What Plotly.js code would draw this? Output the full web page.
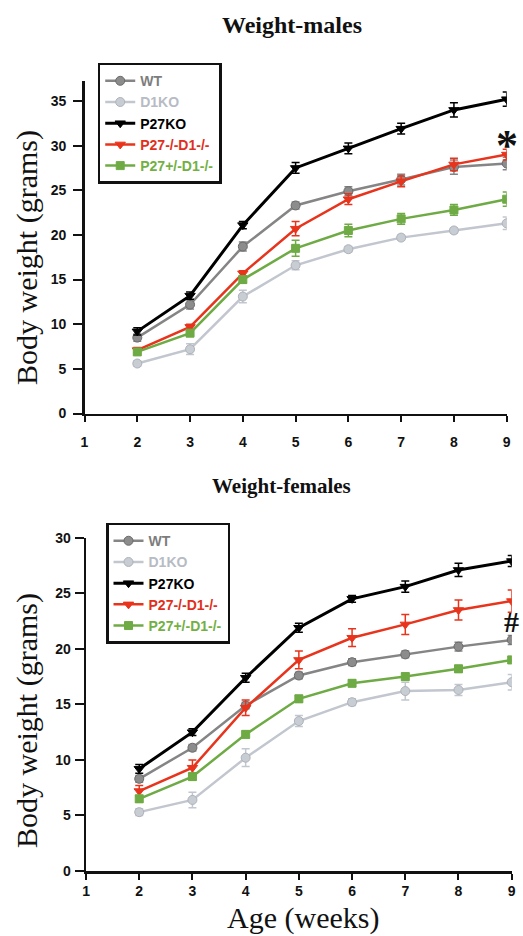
<!DOCTYPE html>
<html>
<head>
<meta charset="utf-8">
<script src="https://cdn.plot.ly/plotly-3.0.1.min.js"></script>
<style>html,body{margin:0;padding:0;background:#fff;}#chart{width:523px;height:936px;}</style>
</head>
<body>
<div id="chart"></div>
<script>
// Age in weeks
const weeks = [2, 3, 4, 5, 6, 7, 8, 9];
const seriesNames = ["WT", "D1KO", "P27KO", "P27-/-D1-/-", "P27+/-D1-/-"];

// Males: mean body weight (grams) and SEM
const maleWT     = [8.5, 12.2, 18.7, 23.3, 24.9, 26.2, 27.6, 28.0];
const maleD1KO   = [5.6, 7.2, 13.1, 16.6, 18.4, 19.7, 20.5, 21.3];
const maleP27KO  = [9.2, 13.2, 21.1, 27.5, 29.7, 31.9, 34.0, 35.2];
const maleDKO    = [7.1, 9.7, 15.7, 20.7, 24.0, 26.0, 27.9, 29.0];
const maleHet    = [6.9, 9.0, 15.0, 18.5, 20.5, 21.8, 22.8, 24.0];
const maleWTErr    = [0.4, 0.5, 0.5, 0.4, 0.5, 0.6, 0.8, 0.7];
const maleD1KOErr  = [0.3, 0.6, 0.7, 0.5, 0.3, 0.3, 0.3, 0.7];
const maleP27KOErr = [0.4, 0.4, 0.4, 0.6, 0.6, 0.6, 0.8, 0.8];
const maleDKOErr   = [0.3, 0.3, 0.3, 0.8, 0.6, 0.6, 0.7, 0.6];
const maleHetErr   = [0.3, 0.3, 0.4, 0.9, 0.7, 0.6, 0.6, 0.8];

// Females: mean body weight (grams) and SEM
const femWT     = [8.3, 11.1, 14.9, 17.6, 18.8, 19.5, 20.2, 20.8];
const femD1KO   = [5.3, 6.4, 10.2, 13.5, 15.2, 16.2, 16.3, 17.0];
const femP27KO  = [9.2, 12.5, 17.4, 21.9, 24.5, 25.6, 27.1, 27.9];
const femDKO    = [7.2, 9.3, 14.7, 19.0, 21.0, 22.2, 23.5, 24.3];
const femHet    = [6.5, 8.5, 12.3, 15.5, 16.9, 17.5, 18.2, 19.0];
const femWTErr    = [0.3, 0.3, 0.3, 0.3, 0.3, 0.3, 0.4, 0.4];
const femD1KOErr  = [0.3, 0.7, 0.8, 0.5, 0.3, 0.8, 0.5, 0.7];
const femP27KOErr = [0.4, 0.3, 0.4, 0.4, 0.3, 0.5, 0.6, 0.5];
const femDKOErr   = [0.5, 0.7, 0.7, 0.8, 0.8, 0.9, 0.9, 1.0];
const femHetErr   = [0.3, 0.3, 0.3, 0.3, 0.3, 0.3, 0.3, 0.3];

const xTicks = [1, 2, 3, 4, 5, 6, 7, 8, 9];
const yTicksMale = [0, 5, 10, 15, 20, 25, 30, 35];
const yTicksFemale = [0, 5, 10, 15, 20, 25, 30];

const styles = [
  {line: "#858585", marker: "#8c8c8c", outline: "#6a6a6a", text: "#7d7d7d", symbol: "circle", lw: 2.5},
  {line: "#c2c6ce", marker: "#c8ccd3", outline: "#aeb2ba", text: "#b7bbc4", symbol: "circle", lw: 2.5},
  {line: "#000000", marker: "#000000", outline: "#000000", text: "#000000", symbol: "triangle-down", lw: 3},
  {line: "#e8341c", marker: "#e8341c", outline: "#e8341c", text: "#e0301c", symbol: "triangle-down", lw: 2.5},
  {line: "#6fab45", marker: "#6fab45", outline: "#6fab45", text: "#72b043", symbol: "square", lw: 2.5}
];

function makeTraces(values, errs, xa, ya, legendId) {
  return values.map((v, i) => {
    const s = styles[i];
    return {
      x: weeks, y: v, xaxis: xa, yaxis: ya, legend: legendId,
      type: "scatter", mode: "lines+markers",
      name: '<span style="color:' + s.text + '">' + seriesNames[i] + '</span>',
      line: {color: s.line, width: s.lw},
      marker: {symbol: s.symbol, size: s.symbol === "square" ? 8 : 9, color: s.marker,
               line: {color: s.outline, width: 1}},
      error_y: {type: "data", array: errs[i], visible: true, color: s.line, thickness: 1.5, width: 4}
    };
  });
}

const traces = [].concat(
  makeTraces([maleWT, maleD1KO, maleP27KO, maleDKO, maleHet],
             [maleWTErr, maleD1KOErr, maleP27KOErr, maleDKOErr, maleHetErr], "x", "y", "legend"),
  makeTraces([femWT, femD1KO, femP27KO, femDKO, femHet],
             [femWTErr, femD1KOErr, femP27KOErr, femDKOErr, femHetErr], "x2", "y2", "legend2")
);

const tickFont = {family: "Liberation Sans, Arial, sans-serif", size: 14, color: "#111", weight: "bold"};
const axisCommon = {
  showline: true, linecolor: "#111", linewidth: 2.5, showgrid: false, zeroline: false,
  ticks: "outside", tickcolor: "#111", tickwidth: 2, tickfont: tickFont, fixedrange: true
};
const legendCommon = {
  bgcolor: "rgba(255,255,255,0)", bordercolor: "#111", borderwidth: 2.5,
  font: {family: "Liberation Sans, Arial, sans-serif", size: 14, weight: "bold"},
  xanchor: "left", yanchor: "top", itemwidth: 30, tracegroupgap: 0
};
const serif = "Liberation Serif, Times New Roman, serif";

const layout = {
  width: 523, height: 936,
  margin: {l: 84, r: 10, t: 0, b: 0},
  paper_bgcolor: "#fff", plot_bgcolor: "#fff",
  showlegend: true,
  xaxis: Object.assign({}, axisCommon, {domain: [0.0012, 0.9853], range: [1, 9], tickvals: xTicks,
    ticklen: 6, ticklabelstandoff: 8, anchor: "y"}),
  yaxis: Object.assign({}, axisCommon, {domain: [0.5582, 0.9131], range: [0, 37.2], tickvals: yTicksMale,
    ticklen: 9, ticklabelstandoff: 4, anchor: "x"}),
  xaxis2: Object.assign({}, axisCommon, {domain: [0.0047, 0.997], range: [1, 9], tickvals: xTicks,
    ticklen: 6, ticklabelstandoff: 0, anchor: "y2"}),
  yaxis2: Object.assign({}, axisCommon, {domain: [0.0694, 0.4255], range: [0, 30], tickvals: yTicksFemale,
    ticklen: 9, ticklabelstandoff: 1, anchor: "x2"}),
  legend: Object.assign({}, legendCommon, {x: 0.032, y: 0.933}),
  legend2: Object.assign({}, legendCommon, {x: 0.0513, y: 0.4416}),
  annotations: [
    {text: "<b>Weight-males</b>", xref: "paper", yref: "paper", x: 0.485, y: 0.9733,
     showarrow: false, font: {family: serif, size: 24, color: "#111"}, xanchor: "center", yanchor: "middle"},
    {text: "<b>Weight-females</b>", xref: "paper", yref: "paper", x: 0.4615, y: 0.4808,
     showarrow: false, font: {family: serif, size: 21, color: "#111"}, xanchor: "center", yanchor: "middle"},
    {text: "Body weight (grams)", xref: "paper", yref: "paper", x: -0.1329, y: 0.7254, textangle: -90,
     showarrow: false, font: {family: serif, size: 30, color: "#111"}, xanchor: "center", yanchor: "middle"},
    {text: "Body weight (grams)", xref: "paper", yref: "paper", x: -0.1329, y: 0.2308, textangle: -90,
     showarrow: false, font: {family: serif, size: 30, color: "#111"}, xanchor: "center", yanchor: "middle"},
    {text: "Age (weeks)", xref: "paper", yref: "paper", x: 0.5105, y: 0.0, borderpad: 0,
     showarrow: false, font: {family: serif, size: 30, color: "#111"}, xanchor: "center", yanchor: "bottom"},
    {text: "<b>*</b>", xref: "x", yref: "y", x: 9, y: 30.0, showarrow: false,
     font: {family: serif, size: 44, color: "#111"}, xanchor: "center", yanchor: "middle"},
    {text: "<b>#</b>", xref: "x2", yref: "y2", x: 9, y: 22.5, showarrow: false,
     font: {family: serif, size: 30, color: "#111"}, xanchor: "center", yanchor: "middle"}
  ]
};

Plotly.newPlot("chart", traces, layout, {staticPlot: true, displayModeBar: false});
</script>
</body>
</html>
